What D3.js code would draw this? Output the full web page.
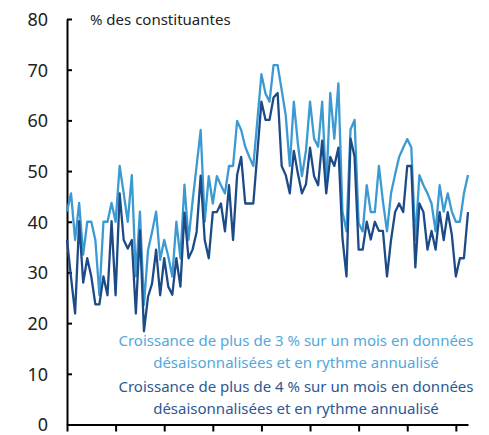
<!DOCTYPE html>
<html>
<head>
<meta charset="utf-8">
<script src="https://cdn.jsdelivr.net/npm/d3@7"></script>
<style>
  body { margin: 0; background: #fff; }
  svg { display: block; }
  .axis path, .axis line { stroke: #000; stroke-width: 2; }
  .axis text { font-family: "Noto Sans", sans-serif; font-size: 18px; fill: #222; }
</style>
</head>
<body>
<div id="chart"></div>
<script>
// monthly share of components, %
const growthAbove3 = [
  42, 45.6, 36.4, 43.7, 33.5, 40, 40, 36.4, 25.5, 40,
  40, 43.7, 40, 51, 45.6, 40, 49.2, 29.2, 42, 23.6,
  34.4, 38, 42, 32.5, 36.4, 33.2, 29.2, 40, 32.8, 47.3,
  36.4, 44, 51, 58.1, 40, 49, 43.6, 49, 47.2, 45.6,
  51, 51, 59.9, 58.1, 54.8, 52.8, 51, 60, 69.1, 65.3,
  63.7, 70.9, 70.9, 66, 61, 51, 63.7, 55.4, 49, 54,
  63.7, 56.4, 54.8, 63.7, 46.5, 65.4, 56.4, 67.3, 42, 38.1,
  58.2, 60.1, 39.7, 38.1, 47.2, 41.9, 41.9, 51, 44, 38.1,
  45.6, 49.3, 52.8, 54.6, 56.3, 54.7, 36.4, 49.2, 47.2, 45.6,
  43.6, 38.1, 47.2, 42, 45.6, 42, 40, 40, 45.6, 49.2
];
const growthAbove4 = [
  36.4, 29, 21.9, 40.1, 28, 32.8, 29.2, 23.7, 23.7, 29.2,
  25.5, 40.1, 25.5, 45.6, 36.4, 34.7, 36.4, 21.9, 38.3, 18.4,
  25.2, 27.8, 34.5, 25.5, 32.8, 27.2, 25.6, 32.8, 27.2, 41.8,
  32.8, 34.5, 38, 49.1, 36.4, 32.8, 41.9, 41.9, 43.6, 38.1,
  47.2, 36.4, 49.2, 52.8, 43.6, 43.6, 43.6, 53.6, 63.7, 60.1,
  60.1, 64.5, 65.4, 51, 49.2, 45.6, 54, 49.5, 45.6, 47.4,
  54.6, 49, 47.2, 56, 45.6, 52.8, 51, 54.6, 36.8, 29.2,
  56.4, 52.8, 34.5, 34.5, 40, 36.5, 40, 38.2, 38.2, 29.2,
  36.4, 41.9, 43.6, 41.9, 51, 51, 31, 43.6, 41.9, 34.5,
  38.2, 34.5, 41.9, 36.4, 41.9, 37.5, 29.2, 32.8, 32.8, 41.9
];
const yTicks = [0, 10, 20, 30, 40, 50, 60, 70, 80];
const yearTicks = [0, 12, 24, 36, 48, 60, 72, 84, 96];
const unitLabel = '% des constituantes';
const legend3 = ['Croissance de plus de 3 % sur un mois en données', 'désaisonnalisées et en rythme annualisé'];
const legend4 = ['Croissance de plus de 4 % sur un mois en données', 'désaisonnalisées et en rythme annualisé'];

const width = 489, height = 435;
const lightBlue = '#3c9ad2';
const darkBlue = '#1d4b87';

const svg = d3.select('#chart').append('svg')
    .attr('width', width)
    .attr('height', height);

// scales
const x = d3.scaleLinear().domain([0, growthAbove3.length - 1]).range([67, 468]);
const y = d3.scaleLinear().domain([0, 80]).range([424.5, 19]);

// y axis, ticks pointing inward
svg.append('g')
    .attr('class', 'axis')
    .attr('transform', 'translate(67,0)')
    .call(d3.axisLeft(y).tickValues(yTicks).tickSize(-5).tickSizeOuter(0).tickPadding(19))
    .selectAll('text').attr('dy', '0.35em');

// x axis, yearly ticks without labels
svg.append('g')
    .attr('class', 'axis')
    .attr('transform', 'translate(0,424.5)')
    .call(d3.axisBottom(x).tickValues(yearTicks).tickFormat('').tickSize(7).tickSizeOuter(0));

const line = d3.line()
    .x((d, i) => x(i))
    .y(d => y(d));

svg.append('path')
    .datum(growthAbove3)
    .attr('fill', 'none')
    .attr('stroke', lightBlue)
    .attr('stroke-width', 2.3)
    .attr('stroke-linejoin', 'round')
    .attr('d', line);

svg.append('path')
    .datum(growthAbove4)
    .attr('fill', 'none')
    .attr('stroke', darkBlue)
    .attr('stroke-width', 2.3)
    .attr('stroke-linejoin', 'round')
    .attr('d', line);

// unit label
svg.append('text')
    .attr('x', 90)
    .attr('y', 25)
    .style('font-family', '"Noto Sans", sans-serif')
    .style('font-size', '15px')
    .attr('fill', '#222')
    .text(unitLabel);

// legend texts
function legendBlock(lines, y0, color) {
  lines.forEach((t, i) => {
    svg.append('text')
        .attr('x', 296)
        .attr('y', y0 + i * 21.5)
        .attr('text-anchor', 'middle')
        .style('font-family', '"Noto Sans", sans-serif')
        .style('font-size', '15px')
        .attr('fill', color)
        .text(t);
  });
}
legendBlock(legend3, 346, '#52a8dc');
legendBlock(legend4, 392, '#2d5894');
</script>
</body>
</html>
